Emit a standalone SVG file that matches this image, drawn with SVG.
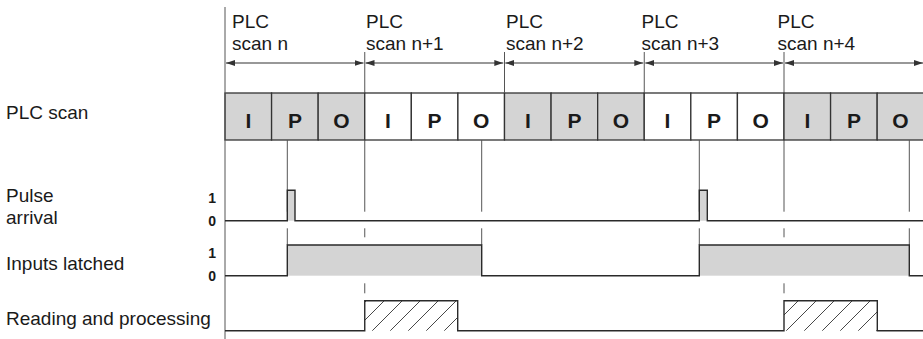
<svg xmlns="http://www.w3.org/2000/svg" width="923" height="339" viewBox="0 0 923 339">
<style>
  text { font-family: "Liberation Sans", Arial, sans-serif; fill: #1a1a1a; }
  .lbl { font-size: 19px; }
  .cell { stroke: #333; stroke-width: 1.3; }
  .g { fill: #d4d4d4; }
  .w { fill: #ffffff; }
  .ltr { font-size: 21px; font-weight: bold; text-anchor: middle; }
  .lvl { font-size: 14px; font-weight: bold; text-anchor: end; }
  .guide { stroke: #555; stroke-width: 1; fill: none; }
  .arr { stroke: #333; stroke-width: 1.2; marker-start: url(#ah); marker-end: url(#ah); }
  .sig { stroke: #2a2a2a; stroke-width: 1.4; fill: none; stroke-linejoin: miter; }
  .fillg { fill: #d4d4d4; stroke: none; }
</style>
<defs>
  <marker id="ah" markerUnits="userSpaceOnUse" markerWidth="9" markerHeight="6" refX="9" refY="3" orient="auto-start-reverse">
    <path d="M0,0 L9,3 L0,6 z" fill="#333"/>
  </marker>
  <pattern id="hatch" patternUnits="userSpaceOnUse" width="18" height="18" x="1">
    <path d="M0,18 L18,0 M-3,3 L3,-3 M15,21 L21,15" stroke="#333" stroke-width="0.9"/>
  </pattern>
</defs>
<rect width="923" height="339" fill="#fff"/>

<g id="left-labels">
  <text class="lbl" x="6" y="119">PLC scan</text>
  <text class="lbl" x="6" y="202">Pulse</text>
  <text class="lbl" x="6" y="224">arrival</text>
  <text class="lbl" x="6" y="270">Inputs latched</text>
  <text class="lbl" x="6" y="325">Reading and processing</text>
  <text class="lvl" x="216" y="203">1</text>
  <text class="lvl" x="216" y="226">0</text>
  <text class="lvl" x="216" y="258">1</text>
  <text class="lvl" x="216" y="281">0</text>
</g>

<g id="scan-headers">
  <text class="lbl" x="232" y="28">PLC</text>
  <text class="lbl" x="232" y="50">scan n</text>
  <text class="lbl" x="366" y="28">PLC</text>
  <text class="lbl" x="366" y="50">scan n+1</text>
  <text class="lbl" x="506" y="28">PLC</text>
  <text class="lbl" x="506" y="50">scan n+2</text>
  <text class="lbl" x="641.5" y="28">PLC</text>
  <text class="lbl" x="641.5" y="50">scan n+3</text>
  <text class="lbl" x="777.5" y="28">PLC</text>
  <text class="lbl" x="777.5" y="50">scan n+4</text>
</g>

<g id="connectors">
  <line class="arr" x1="226" y1="63" x2="363.5" y2="63"/>
  <line class="arr" x1="365.5" y1="63" x2="503.3" y2="63"/>
  <line class="arr" x1="505.3" y1="63" x2="643.3" y2="63"/>
  <line class="arr" x1="645.3" y1="63" x2="783" y2="63"/>
  <line class="arr" x1="785" y1="63" x2="923" y2="63"/>
</g>

<g id="scan-cells">
  <rect class="cell g" x="225" y="93" width="46.58" height="47"/>
  <rect class="cell g" x="271.58" y="93" width="46.58" height="47"/>
  <rect class="cell g" x="318.17" y="93" width="46.58" height="47"/>
  <rect class="cell w" x="364.75" y="93" width="46.58" height="47"/>
  <rect class="cell w" x="411.33" y="93" width="46.58" height="47"/>
  <rect class="cell w" x="457.92" y="93" width="46.58" height="47"/>
  <rect class="cell g" x="504.5" y="93" width="46.58" height="47"/>
  <rect class="cell g" x="551.08" y="93" width="46.58" height="47"/>
  <rect class="cell g" x="597.67" y="93" width="46.58" height="47"/>
  <rect class="cell w" x="644.25" y="93" width="46.58" height="47"/>
  <rect class="cell w" x="690.83" y="93" width="46.58" height="47"/>
  <rect class="cell w" x="737.42" y="93" width="46.58" height="47"/>
  <rect class="cell g" x="784" y="93" width="46.58" height="47"/>
  <rect class="cell g" x="830.58" y="93" width="46.58" height="47"/>
  <rect class="cell g" x="877.17" y="93" width="46.58" height="47"/>
  <text class="ltr" x="248.3" y="128">I</text>
  <text class="ltr" x="294.9" y="128">P</text>
  <text class="ltr" x="341.5" y="128">O</text>
  <text class="ltr" x="388" y="128">I</text>
  <text class="ltr" x="434.6" y="128">P</text>
  <text class="ltr" x="481.2" y="128">O</text>
  <text class="ltr" x="527.8" y="128">I</text>
  <text class="ltr" x="574.4" y="128">P</text>
  <text class="ltr" x="621" y="128">O</text>
  <text class="ltr" x="667.5" y="128">I</text>
  <text class="ltr" x="714.1" y="128">P</text>
  <text class="ltr" x="760.7" y="128">O</text>
  <text class="ltr" x="807.3" y="128">I</text>
  <text class="ltr" x="853.9" y="128">P</text>
  <text class="ltr" x="900.5" y="128">O</text>
</g>

<g id="guides">
  <line class="guide" x1="225" y1="7" x2="225" y2="339"/>
  <line class="guide" x1="364.75" y1="52" x2="364.75" y2="93"/>
  <line class="guide" x1="504.5" y1="52" x2="504.5" y2="93"/>
  <line class="guide" x1="644.25" y1="52" x2="644.25" y2="93"/>
  <line class="guide" x1="784" y1="52" x2="784" y2="93"/>
  <path class="guide" d="M287.3,140 V211.7 M287.3,228.3 V245"/>
  <path class="guide" d="M364.75,140 V211.7 M364.75,228.3 V237.3 M364.75,283.3 V293.3"/>
  <path class="guide" d="M481.7,140 V211.7 M481.7,228.3 V245"/>
  <path class="guide" d="M699.3,140 V211.7 M699.3,228.3 V245"/>
  <path class="guide" d="M784,140 V211.7 M784,228.3 V237.3 M784,283.3 V293.3"/>
  <path class="guide" d="M909.3,140 V211.7 M909.3,228.3 V245"/>
</g>

<g id="pulse-arrival">
  <rect class="fillg" x="287.3" y="190.3" width="7.7" height="30.4"/>
  <rect class="fillg" x="699.3" y="190.3" width="8" height="30.4"/>
  <path class="sig" d="M225,220.7 H287.3 V190.3 H295 V220.7 H699.3 V190.3 H707.3 V220.7 H923"/>
</g>

<g id="inputs-latched">
  <rect class="fillg" x="287.3" y="245" width="194.4" height="30.7"/>
  <rect class="fillg" x="699.3" y="245" width="210" height="30.7"/>
  <path class="sig" d="M225,275.7 H287.3 V245 H481.7 V275.7 H699.3 V245 H909.3 V275.7 H923"/>
</g>

<g id="reading-processing">
  <rect fill="url(#hatch)" x="364.75" y="300.7" width="93" height="30"/>
  <rect fill="url(#hatch)" x="784" y="300.7" width="93.3" height="30"/>
  <path class="sig" d="M225,330.7 H364.75 V300.7 H457.7 V330.7 H784 V300.7 H877.3 V330.7 H923"/>
</g>
</svg>
